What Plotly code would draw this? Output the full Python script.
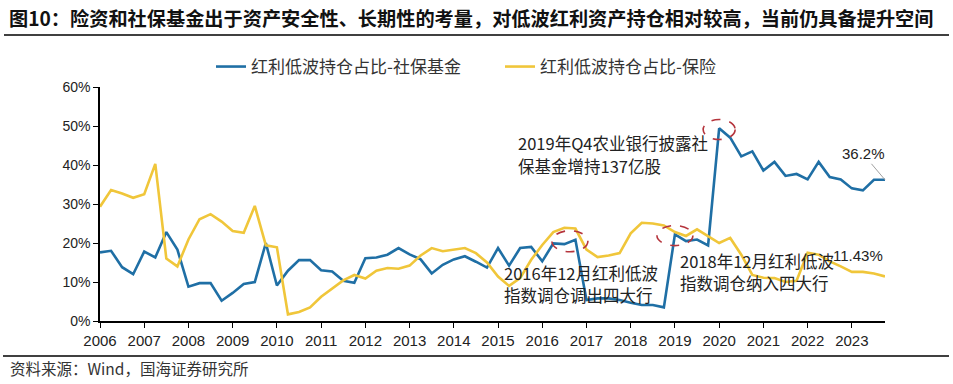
import plotly.graph_objects as go

# ---------------- data (quarterly, 2006Q1 .. 2023Q4) ----------------
start_year = 2006
n_q = 72
quarters = [start_year + i / 4 for i in range(n_q)]

social_fund = [
    17.6, 18.0, 13.8, 12.0, 17.8, 16.3, 22.8, 18.3,
    8.8, 9.7, 9.7, 5.2, 7.2, 9.5, 10.0, 20.0,
    9.1, 12.9, 15.6, 15.6, 13.0, 12.7, 10.3, 9.8,
    16.1, 16.3, 17.0, 18.7, 17.1, 15.8, 12.2, 14.4,
    15.8, 16.6, 15.2, 13.7, 18.7, 14.2, 18.7, 19.0,
    15.3, 19.9, 19.7, 20.8, 5.4, 5.8, 5.8, 5.4,
    4.7, 4.1, 4.1, 3.5, 22.2, 20.5, 20.9, 19.4,
    49.4, 47.0, 42.2, 43.5, 38.6, 40.8, 37.2, 37.7,
    36.3, 40.8, 36.9, 36.3, 34.0, 33.5, 36.2, 36.2,
]
insurance = [
    29.3, 33.6, 32.7, 31.6, 32.5, 40.3, 16.0, 14.0,
    20.9, 26.1, 27.4, 25.5, 23.1, 22.6, 29.5, 19.4,
    18.9, 1.7, 2.3, 3.5, 6.2, 8.4, 10.4, 11.8,
    10.9, 12.9, 13.6, 13.4, 14.2, 16.8, 18.7, 17.9,
    18.3, 18.7, 17.4, 15.0, 11.4, 9.0, 11.0, 15.7,
    19.5, 22.8, 23.9, 23.7, 18.3, 16.4, 16.8, 17.4,
    22.5, 25.2, 25.0, 24.5, 22.8, 21.8, 23.5, 21.8,
    20.0, 21.3, 17.0, 11.8, 11.1, 11.0, 10.0, 10.3,
    17.5, 17.0, 15.3, 14.0, 12.6, 12.6, 12.2, 11.43,
]
year_ticks = list(range(2006, 2024))
year_labels = [str(y) for y in year_ticks]
y_ticks = [0, 10, 20, 30, 40, 50, 60]
y_labels = [f"{v}%" for v in y_ticks]

name_social = "红利低波持仓占比-社保基金"
name_ins = "红利低波持仓占比-保险"
title_text = "图10：险资和社保基金出于资产安全性、长期性的考量，对低波红利资产持仓相对较高，当前仍具备提升空间"
source_text = "资料来源：Wind，国海证券研究所"
note_2019 = ["2019年Q4农业银行披露社", "保基金增持137亿股"]
note_2016 = ["2016年12月红利低波", "指数调仓调出四大行"]
note_2018 = ["2018年12月红利低波", "指数调仓纳入四大行"]

BLUE = "#1F6FA5"
YELLOW = "#F0C63A"
RED = "#B5343C"
CJK = "Noto Sans CJK SC"
NUM = "Liberation Sans, Arial, sans-serif"

# ---------------- layout geometry (pixels) ----------------
W, H = 953, 384
L, R, T, B = 100, 68, 87, 63
pw, ph = W - L - R, H - T - B


def px(xp):
    return (xp - L) / pw


def py(yp):
    return (H - B - yp) / ph


fig = go.Figure()
fig.add_trace(go.Scatter(x=quarters, y=social_fund, mode="lines", name=name_social,
                         line=dict(color=BLUE, width=2.6)))
fig.add_trace(go.Scatter(x=quarters, y=insurance, mode="lines", name=name_ins,
                         line=dict(color=YELLOW, width=2.6)))

annotations = [
    dict(text=f"<b>{title_text}</b>", xref="paper", yref="paper", x=px(7), y=py(18),
         xanchor="left", yanchor="middle", showarrow=False,
         font=dict(family=CJK, size=19.2, color="#111")),
    dict(text=source_text, xref="paper", yref="paper", x=px(8), y=py(368),
         xanchor="left", yanchor="middle", showarrow=False,
         font=dict(family=CJK, size=15.5, color="#333")),
    dict(text=f"{social_fund[-1]}%", x=quarters[-1], y=social_fund[-1], xref="x", yref="y",
         showarrow=True, arrowhead=0, arrowwidth=1, arrowcolor="#A0A0A0",
         ax=-22, ay=-26, font=dict(family=NUM, size=15, color="#222")),
    dict(text=f"{insurance[-1]}%", x=quarters[-1], y=insurance[-1], xref="x", yref="y",
         showarrow=False, xanchor="right", yanchor="middle", yshift=21,
         font=dict(family=NUM, size=15, color="#222")),
]
# multi-line notes: one annotation per line
for lines, x_left, y_first, gap in [
    (note_2019, 516, 143, 23),
    (note_2016, 502, 273, 21.5),
    (note_2018, 678, 261, 21.5),
]:
    for k, line in enumerate(lines):
        annotations.append(dict(text=line, xref="paper", yref="paper", x=px(x_left),
                                y=py(y_first + k * gap), xanchor="left", yanchor="middle",
                                showarrow=False,
                                font=dict(family=CJK, size=16.5, color="#222")))

shapes = [
    dict(type="line", xref="paper", yref="paper", x0=px(4), x1=px(949), y0=py(35), y1=py(35),
         line=dict(color="#000", width=1.5)),
    dict(type="line", xref="paper", yref="paper", x0=px(3), x1=px(949), y0=py(356), y1=py(356),
         line=dict(color="#000", width=1.5)),
]
# dashed ellipses around key points
for xa, ya, w, h in [
    ((quarters[42] + quarters[43]) / 2, (social_fund[42] + social_fund[43]) / 2 + 0.2, 36, 21),
    (quarters[52], social_fund[52] - 0.3, 36, 20),
    (quarters[56], social_fund[56] - 0.3, 32, 20),
]:
    shapes.append(dict(type="circle", xref="x", yref="y", xsizemode="pixel", ysizemode="pixel",
                       xanchor=xa, yanchor=ya, x0=-w / 2, x1=w / 2, y0=-h / 2, y1=h / 2,
                       line=dict(color=RED, width=1.6, dash="dash")))

fig.update_layout(
    width=W, height=H,
    margin=dict(l=L, r=R, t=T, b=B, autoexpand=False),
    paper_bgcolor="white", plot_bgcolor="white",
    showlegend=True,
    legend=dict(orientation="h", x=px(211), y=py(67), xanchor="left", yanchor="middle",
                font=dict(family=CJK, size=17, color="#333"),
                entrywidth=244, entrywidthmode="pixels",
                bgcolor="rgba(0,0,0,0)", borderwidth=0),
    xaxis=dict(range=[quarters[0], quarters[-1]], tickmode="array", tickvals=year_ticks,
               ticktext=year_labels, showgrid=False, zeroline=False,
               showline=True, linecolor="#000", linewidth=2,
               ticks="outside", ticklen=5, tickwidth=1.2, tickcolor="#000",
               tickfont=dict(family=NUM, size=15, color="#222")),
    yaxis=dict(range=[0, 60], tickmode="array", tickvals=y_ticks, ticktext=y_labels,
               showgrid=False, zeroline=False, showline=True, linecolor="#000", linewidth=1.5,
               ticks="outside", ticklen=5, tickwidth=1.2, tickcolor="#000",
               tickfont=dict(family=NUM, size=14, color="#222")),
    annotations=annotations,
    shapes=shapes,
)

fig.write_html("out.html", config={"displayModeBar": False},
               post_script="document.body.style.margin='0';document.body.style.overflow='hidden';")
